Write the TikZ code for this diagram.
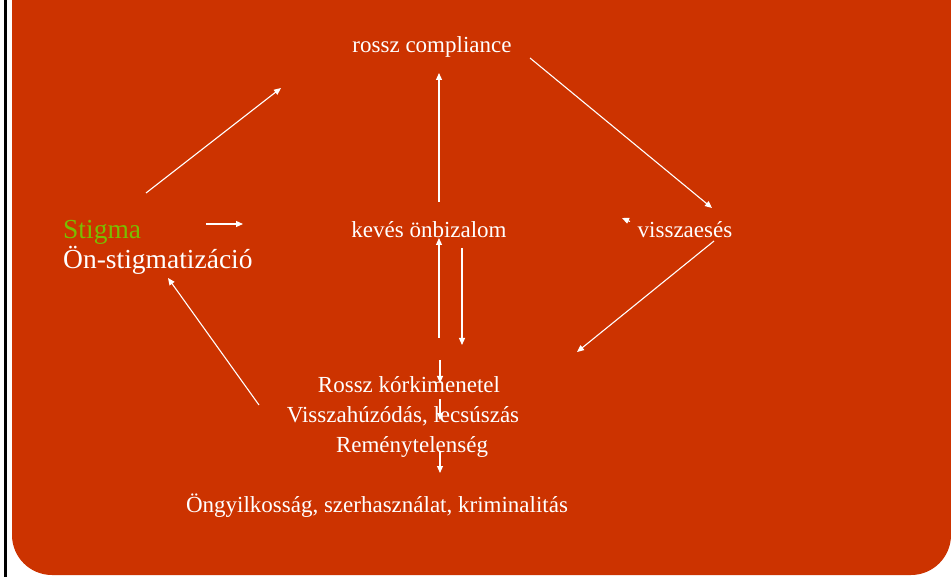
\documentclass[tikz,border=0pt]{standalone}
\usepackage{fontspec}
\setmainfont{Liberation Serif}
\usetikzlibrary{arrows.meta}
\definecolor{slide}{RGB}{204,51,0}
\definecolor{stigmagreen}{RGB}{122,190,0}
\tikzset{
  lbl/.style={text=white, inner sep=0pt, anchor=base, font=\fontsize{23}{28}\selectfont},
  biglbl/.style={lbl, anchor=base west, font=\fontsize{27.5}{32}\selectfont},
  pil/.style={draw=white, line width=1.1pt, -{Triangle[length=7pt,width=6pt]}}
}
\begin{document}
\begin{tikzpicture}[x=1pt,y=-1pt]
\useasboundingbox (0,0) rectangle (951,577);
\fill[white] (0,0) rectangle (951,577);
\fill[black] (4,0) rectangle (6.5,577);
\fill[slide, rounded corners=40pt] (12,-60) rectangle (951,575);
\node[lbl] (compliance) at (432,53) {rossz compliance};
\node[biglbl, text=stigmagreen] (stigma) at (63,239) {Stigma};
\node[biglbl] (onstigma) at (63,269) {Ön-stigmatizáció};
\node[lbl] (onbiz) at (429,238) {kevés önbizalom};
\node[lbl] (visszaeses) at (685,238) {visszaesés};
\node[lbl] (rossz1) at (409,392) {Rossz kórkimenetel};
\node[lbl] (rossz2) at (403,422) {Visszahúzódás, lecsúszás};
\node[lbl] (rossz3) at (412,452) {Reménytelenség};
\node[lbl] (ongyil) at (377,512) {Öngyilkosság, szerhasználat, kriminalitás};
\coordinate (a1) at (146,193);
\coordinate (a2) at (281,88);
\coordinate (b1) at (206,224);
\coordinate (b2) at (243,224);
\coordinate (c1) at (439,202);
\coordinate (c2) at (439,73);
\coordinate (d1) at (530,58);
\coordinate (d2) at (712,208);
\coordinate (e1) at (630,221.5);
\coordinate (e2) at (622,218);
\coordinate (f1) at (714,241);
\coordinate (f2) at (577,352);
\coordinate (g1) at (439,338);
\coordinate (g2) at (439,238);
\coordinate (h1) at (462,248);
\coordinate (h2) at (462,345);
\coordinate (i1) at (440,360);
\coordinate (i2) at (440,383);
\coordinate (j1) at (440,399);
\coordinate (j2) at (440,420);
\coordinate (k1) at (440,451);
\coordinate (k2) at (440,473);
\coordinate (l1) at (259,405);
\coordinate (l2) at (168,278);
\draw[pil] (a1)--(a2);
\draw[pil] (b1)--(b2);
\draw[pil] (c1)--(c2);
\draw[pil] (d1)--(d2);
\draw[pil] (e1)--(e2);
\draw[pil] (f1)--(f2);
\draw[pil] (g1)--(g2);
\draw[pil] (h1)--(h2);
\draw[pil] (i1)--(i2);
\draw[pil] (j1)--(j2);
\draw[pil] (k1)--(k2);
\draw[pil] (l1)--(l2);
\end{tikzpicture}
\end{document}
